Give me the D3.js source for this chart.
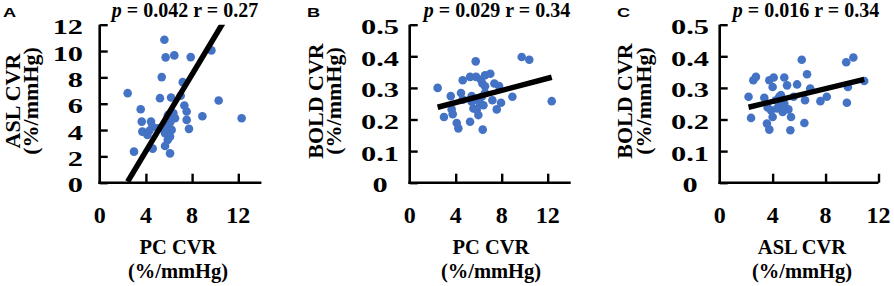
<!DOCTYPE html>
<html><head><meta charset="utf-8">
<script src="https://cdn.jsdelivr.net/npm/d3@7"></script>
<style>body{margin:0;background:#fff}svg{display:block}</style>
</head><body>
<svg id="chart" width="894" height="286"></svg>
<script>
// ---------- data ----------
const panelLetters = ["A", "B", "C"];
const pTexts = ["0.042", "0.029", "0.016"];
const rTexts = ["0.27", "0.34", "0.34"];
const xTitles = ["PC CVR", "PC CVR", "ASL CVR"];
const yTitles = ["ASL CVR", "BOLD CVR", "BOLD CVR"];
const unitText = "(%/mmHg)";

const xTicksA = [0, 4, 8, 12];
const xTicksB = [0, 4, 8, 12];
const xTicksC = [0, 4, 8, 12];
const yTicksA = [0, 2, 4, 6, 8, 10, 12];
const yTicksBC = [0, 0.1, 0.2, 0.3, 0.4, 0.5];
const yTickLabelsBC = ["0", "0.1", "0.2", "0.3", "0.4", "0.5"];

// Panel A: PC CVR vs ASL CVR
const pcA  = [5.6,5.71,6.46,7.88,9.67,5.37,7.19,2.42,5.22,6.18,7.01,10.3,3.55,7.33,7.53,6.0,6.38,6.52,8.89,12.29,3.64,4.44,7.53,7.73,3.69,4.13,4.56,5.37,6.23,5.66,6.09,5.89,5.66,4.59,2.97,6.09,5.02,5.8,6.29,4.3,6.1,5.9];
const aslA = [10.86,9.52,9.67,9.54,10.05,8.02,7.64,6.8,6.42,6.47,6.6,6.24,5.58,5.86,5.41,5.2,5.28,4.9,5.05,4.9,4.64,4.64,4.77,4.09,3.88,3.63,4.26,4.14,4.01,3.76,3.5,3.25,2.79,2.59,2.36,2.23,4.14,4.26,5.03,3.95,4.6,5.1];
// Panel B: PC CVR vs BOLD CVR
const pcB   = [2.43,3.57,2.98,3.65,3.74,4.09,4.23,4.46,4.61,4.61,5.25,5.74,5.77,6.2,6.55,7.01,6.32,6.55,7.36,7.77,5.39,5.83,6.26,6.12,5.54,5.83,6.41,5.97,5.25,6.35,7.19,7.94,7.57,8.93,9.74,10.4,12.35,5.39,6.55];
const boldB = [0.300,0.274,0.208,0.232,0.217,0.189,0.172,0.284,0.263,0.324,0.335,0.384,0.335,0.326,0.340,0.345,0.314,0.305,0.314,0.306,0.274,0.263,0.272,0.250,0.235,0.232,0.245,0.214,0.193,0.168,0.261,0.253,0.232,0.272,0.398,0.389,0.258,0.256,0.284];
// Panel C: ASL CVR vs BOLD CVR
const aslC  = [2.18,2.37,2.54,2.74,3.37,3.57,3.75,3.75,4.08,4.0,3.88,4.0,4.25,4.5,4.63,4.88,5.09,4.88,5.19,5.39,5.59,5.34,5.85,6.2,6.6,6.84,6.45,6.4,7.61,8.09,9.56,10.1,9.69,9.61,10.92,3.62,4.33,4.76,4.5];
const boldC = [0.272,0.205,0.324,0.335,0.269,0.187,0.168,0.324,0.333,0.303,0.229,0.208,0.261,0.245,0.277,0.333,0.308,0.250,0.232,0.208,0.272,0.166,0.311,0.389,0.343,0.298,0.261,0.189,0.258,0.272,0.381,0.396,0.303,0.253,0.322,0.238,0.235,0.224,0.272];

// linear trend lines (slope, intercept)
const trendSlope = [1.46, 0.00957, 0.0101];
const trendIntercept = [-3.45, 0.2155, 0.2167];

// ---------- layout ----------
const serif = "'Liberation Serif','Times New Roman',serif";
const sans = "'Liberation Sans',Arial,sans-serif";
const dotColor = "#4472C4";
const panels = [
  {xs: pcA, ys: aslA, xDom: [0, 14], yDom: [0, 12], xR: [99.7, 261.4], xTicks: xTicksA, yTicks: yTicksA,
   yLab: d => String(d), yAnchor: "end", yLabX: 83, yT1: 20, yT2: 38, lx: 3, titleX: 185, xTitleX: 178},
  {xs: pcB, ys: boldB, xDom: [0, 14], yDom: [0, 0.5], xR: [409.7, 570.7], xTicks: xTicksB, yTicks: yTicksBC,
   yLab: (d, i) => yTickLabelsBC[i], yAnchor: "middle", yLabX: 380, yT1: 323, yT2: 341, lx: 307, titleX: 497, xTitleX: 491},
  {xs: aslC, ys: boldC, xDom: [0, 12], yDom: [0, 0.5], xR: [719.7, 878.5], xTicks: xTicksC, yTicks: yTicksBC,
   yLab: (d, i) => yTickLabelsBC[i], yAnchor: "middle", yLabX: 690, yT1: 632, yT2: 651, lx: 617, titleX: 806, xTitleX: 802}
];
const yR = [182.7, 24.7];

const svg = d3.select("#chart");
const defs = svg.append("defs");

panels.forEach((p, k) => {
  const x = d3.scaleLinear().domain(p.xDom).range(p.xR);
  const y = d3.scaleLinear().domain(p.yDom).range(yR);
  const g = svg.append("g");

  defs.append("clipPath").attr("id", "clip" + k).append("rect")
    .attr("x", p.xR[0]).attr("y", yR[1]).attr("width", p.xR[1] - p.xR[0]).attr("height", yR[0] - yR[1]);

  // dots
  const pts = p.xs.map((v, i) => ({x: v, y: p.ys[i]}));
  g.append("g").selectAll("circle").data(pts).join("circle")
    .attr("cx", d => x(d.x)).attr("cy", d => y(d.y)).attr("r", 4.3).attr("fill", dotColor);

  // trend line
  const ext = d3.extent(p.xs);
  const tl = ext.map(v => ({x: v, y: trendSlope[k] * v + trendIntercept[k]}));
  g.append("path").attr("clip-path", `url(#clip${k})`)
    .attr("d", d3.line().x(d => x(d.x)).y(d => y(d.y))(tl))
    .attr("stroke", "#000").attr("stroke-width", 5.5).attr("fill", "none");

  // axes
  const yAxis = d3.axisRight(y).tickValues(p.yTicks).tickSize(8).tickFormat("");
  const ya = g.append("g").attr("transform", `translate(${p.xR[0]},0)`).call(yAxis);
  const xAxis = d3.axisTop(x).tickValues(p.xTicks.filter(v => v > 0)).tickSize(9).tickFormat("");
  const xa = g.append("g").attr("transform", `translate(0,${yR[0]})`).call(xAxis);
  [ya, xa].forEach(a => {
    a.select(".domain").attr("stroke", "#000").attr("stroke-width", 2.6);
    a.selectAll(".tick line").attr("stroke", "#000").attr("stroke-width", 2.4);
  });
  ya.select(".domain").attr("d", `M0,${yR[0] + 1.3}V${yR[1]}`);
  xa.select(".domain").attr("d", `M${p.xR[0] - 1.3},0H${p.xR[1]}`);

  // y tick labels (horizontally widened as in the original)
  g.append("g").selectAll("text").data(p.yTicks).join("text")
    .attr("transform", d => `translate(${p.yLabX},${y(d) + 9.5}) scale(1.38,1)`)
    .attr("text-anchor", p.yAnchor)
    .attr("font-family", serif).attr("font-weight", "bold").attr("font-size", 22)
    .text((d, i) => p.yLab(d, i));

  // x tick labels
  g.append("g").selectAll("text").data(p.xTicks).join("text")
    .attr("x", d => x(d)).attr("y", 223)
    .attr("text-anchor", "middle")
    .attr("font-family", serif).attr("font-weight", "bold").attr("font-size", 24)
    .text(d => String(d));

  // x title
  g.append("text").attr("x", p.xTitleX).attr("y", 254).attr("text-anchor", "middle")
    .attr("font-family", serif).attr("font-weight", "bold").attr("font-size", 20.5).text(xTitles[k]);
  g.append("text").attr("x", p.xTitleX).attr("y", 277.5).attr("text-anchor", "middle")
    .attr("font-family", serif).attr("font-weight", "bold").attr("font-size", 20.5).text(unitText);

  // y title (rotated)
  g.append("text").attr("transform", `translate(${p.yT1},101) rotate(-90)`).attr("text-anchor", "middle")
    .attr("font-family", serif).attr("font-weight", "bold").attr("font-size", 22).text(yTitles[k]);
  g.append("text").attr("transform", `translate(${p.yT2},101) rotate(-90)`).attr("text-anchor", "middle")
    .attr("font-family", serif).attr("font-weight", "bold").attr("font-size", 22).text(unitText);

  // stats title
  const t = g.append("text").attr("x", p.titleX).attr("y", 17).attr("text-anchor", "middle")
    .attr("font-family", serif).attr("font-weight", "bold").attr("font-size", 20);
  t.append("tspan").attr("font-style", "italic").text("p");
  t.append("tspan").text(` = ${pTexts[k]} r = ${rTexts[k]}`);

  // panel letter
  g.append("text").attr("transform", `translate(${p.lx},16.5) scale(1.35,1)`)
    .attr("font-family", sans).attr("font-weight", "bold").attr("font-size", 13.5).text(panelLetters[k]);
});
</script>
</body></html>
